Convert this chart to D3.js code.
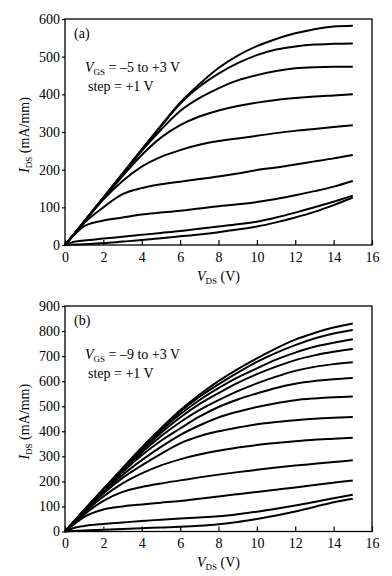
<!DOCTYPE html>
<html><head><meta charset="utf-8">
<script src="https://cdn.jsdelivr.net/npm/d3@7"></script>
<style>
html,body{margin:0;padding:0;background:#fff;}
svg{display:block;font-family:"Liberation Serif","Times New Roman",serif;}
</style></head>
<body><svg id="c" width="392" height="576"></svg>
<script>
// V_DS sample points (V)
const vds = [0,0.5,1,2,3,4,5,6,7,8,9,10,11,12,13,14,15];
const xTicks = [0,2,4,6,8,10,12,14,16];

// (a) V_GS = +3 ... -5 V
const vgsA = [3,2,1,0,-1,-2,-3,-4,-5];
const idsA = [
  [0,31,63,126,190,254,317,378,427,470,503,528,547,562,573,580,582],
  [0,31,63,126,189,253,315,375,420,455,483,504,519,527,532,534,535],
  [0,31,62,125,187,250,306,356,390,416,437,451,462,469,472,473,473],
  [0,31,62,124,183,239,285,318,341,357,369,378,385,390,394,397,400],
  [0,31,61,121,170,208,234,252,266,276,283,290,297,303,308,313,318],
  [0,30,58,100,135,151,161,168,175,182,190,199,206,214,222,230,239],
  [0,28,50,65,73,81,86,91,97,103,108,114,122,132,143,155,170],
  [0,9,12,17,22,27,32,37,43,49,55,62,73,86,100,115,131],
  [0,1,2,5,9,13,18,23,28,34,41,49,60,73,88,106,126]
];
const yTicksA = [0,100,200,300,400,500,600];

// (b) V_GS = +3 ... -9 V
const vgsB = [3,2,1,0,-1,-2,-3,-4,-5,-6,-7,-8,-9];
const idsB = [
  [0,43,86,170,253,335,412,484,546,600,648,691,731,766,792,814,830],
  [0,43,86,169,251,332,408,478,537,587,634,677,713,744,770,790,804],
  [0,43,85,168,249,328,402,468,524,572,615,651,686,714,737,753,767],
  [0,42,84,166,246,323,393,455,508,552,593,628,658,684,703,717,728],
  [0,42,84,164,242,315,380,436,484,524,560,591,618,641,657,668,676],
  [0,41,83,162,237,304,362,411,458,497,527,551,573,590,601,608,613],
  [0,41,82,157,226,285,338,385,423,455,478,497,512,524,531,536,539],
  [0,40,80,152,214,264,310,352,380,400,415,428,437,444,450,454,457],
  [0,38,75,140,192,232,264,288,307,322,335,345,353,360,366,370,374],
  [0,35,68,122,158,178,192,204,216,227,237,246,255,263,270,277,284],
  [0,30,58,88,100,108,115,122,131,140,149,158,167,176,186,195,204],
  [0,15,22,30,36,42,47,52,56,61,69,79,91,104,118,133,147],
  [0,2,4,7,10,13,16,19,23,29,38,50,64,80,98,117,131]
];
const yTicksB = [0,100,200,300,400,500,600,700,800,900];

const svg = d3.select("#c");

function panel(cfg){
  const {top,bottom,yMax,yTicks,ids,tag,vgsText} = cfg;
  const left = 65, right = 372;
  const x = d3.scaleLinear().domain([0,16]).range([left,right]);
  const y = d3.scaleLinear().domain([0,yMax]).range([bottom,top]);
  const g = svg.append("g");

  const line = d3.line().x((d,i)=>x(vds[i])).y(d=>y(d)).curve(d3.curveMonotoneX);
  g.selectAll("path.curve").data(ids).join("path")
    .attr("class","curve").attr("d",line)
    .attr("fill","none").attr("stroke","#000").attr("stroke-width",2)
    .attr("stroke-linejoin","round").attr("stroke-linecap","butt");

  g.append("rect").attr("x",left).attr("y",top).attr("width",right-left).attr("height",bottom-top)
    .attr("fill","none").attr("stroke","#000").attr("stroke-width",1.3);

  const xa = g.append("g").attr("transform",`translate(0,${bottom})`)
    .call(d3.axisBottom(x).tickValues(xTicks).tickSizeInner(-5).tickSizeOuter(0).tickPadding(10));
  xa.select(".domain").remove();
  xa.selectAll("line").attr("stroke","#000").attr("stroke-width",1.2);
  xa.selectAll("text").attr("font-size",14).attr("fill","#000")
    .attr("font-family","Liberation Serif, serif").attr("y",7).attr("dy","0.71em");

  const ya = g.append("g").attr("transform",`translate(${left},0)`)
    .call(d3.axisLeft(y).tickValues(yTicks).tickSizeInner(3).tickSizeOuter(0).tickPadding(2));
  ya.select(".domain").remove();
  ya.selectAll("line").attr("stroke","#000").attr("stroke-width",1.2);
  ya.selectAll("text").attr("font-size",14).attr("fill","#000")
    .attr("font-family","Liberation Serif, serif");

  const xl = g.append("text").attr("x",(left+right)/2).attr("y",bottom+35.5)
    .attr("text-anchor","middle").attr("font-size",14).attr("fill","#000");
  xl.append("tspan").attr("font-style","italic").text("V");
  xl.append("tspan").attr("font-size",9).attr("dy",3).text("DS");
  xl.append("tspan").attr("dy",-3).text(" (V)");

  const cy = (top+bottom)/2 + 3;
  const yl = g.append("text").attr("transform",`translate(29,${cy}) rotate(-90)`)
    .attr("text-anchor","middle").attr("font-size",14).attr("fill","#000");
  yl.append("tspan").attr("font-style","italic").text("I");
  yl.append("tspan").attr("font-size",9).attr("dy",3).text("DS");
  yl.append("tspan").attr("dy",-3).text(" (mA/mm)");

  g.append("text").attr("x",74).attr("y",top+19).attr("font-size",14).attr("fill","#000").text(tag);
  const t1 = g.append("text").attr("x",85).attr("y",top+53).attr("font-size",14).attr("fill","#000");
  t1.append("tspan").attr("font-style","italic").text("V");
  t1.append("tspan").attr("font-size",9).attr("dy",3).text("GS");
  t1.append("tspan").attr("dy",-3).text(vgsText);
  g.append("text").attr("x",88).attr("y",top+72).attr("font-size",14).attr("fill","#000").text("step = +1 V");
}

panel({top:19,bottom:245,yMax:600,yTicks:yTicksA,ids:idsA,tag:"(a)",
       vgsText:" = \u2013" + Math.abs(d3.min(vgsA)) + " to +" + d3.max(vgsA) + " V"});
panel({top:306,bottom:531.5,yMax:900,yTicks:yTicksB,ids:idsB,tag:"(b)",
       vgsText:" = \u2013" + Math.abs(d3.min(vgsB)) + " to +" + d3.max(vgsB) + " V"});
</script></body></html>
